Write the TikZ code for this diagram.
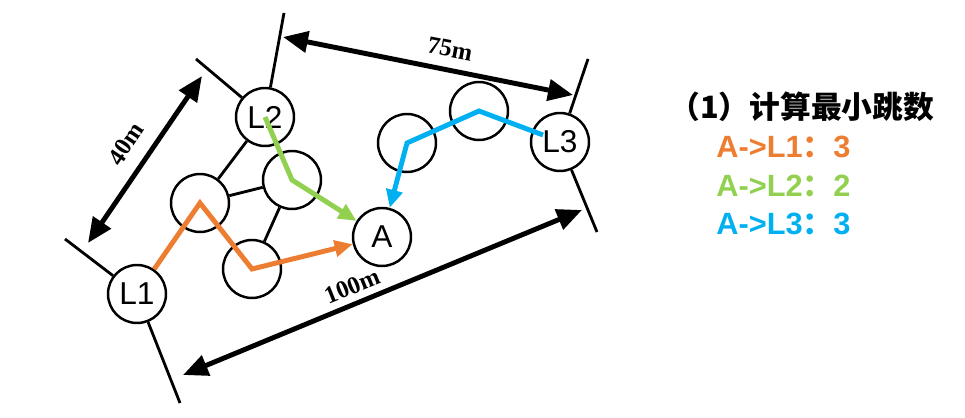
\documentclass[tikz,border=0pt]{standalone}
\usepackage{fontspec}
\setmainfont{Liberation Sans}
\newfontfamily\cjk{Noto Sans CJK SC}
\newfontfamily\dimfont{Liberation Serif}
\usetikzlibrary{arrows.meta}
\definecolor{hoporange}{HTML}{ED7D31}
\definecolor{hopgreen}{HTML}{92D050}
\definecolor{hopblue}{HTML}{00B0F0}

\begin{document}
\begin{tikzpicture}[x=0.02cm, y=-0.02cm, line width=1.6pt,
  site/.style={draw, circle, fill=white, minimum size=1.16cm, inner sep=0pt,
    line width=1.4pt, font=\fontsize{18}{18}\selectfont},
  dimarrow/.style={line width=2.8pt,
    {Triangle[length=0.5cm,width=0.42cm]}-{Triangle[length=0.5cm,width=0.42cm]}},
  dimlabel/.style={font=\dimfont\bfseries\fontsize{14}{14}\selectfont},
  hop/.style={line width=2.8pt, -{Triangle[length=0.36cm,width=0.32cm]}},
  hoplabel/.style={anchor=base west, inner sep=0pt,
    font=\bfseries\fontsize{17.5}{17.5}\selectfont}]
  \useasboundingbox (0,0) rectangle (965,418);

  % sensor nodes
  \node[site] (L1) at (137,294) {L1};
  \node[site] (L2) at (265,117) {L2};
  \node[site] (A)  at (382,237) {A};
  \node[site] (L3) at (560,142) {L3};
  \node[site] (n1) at (200,203) {};
  \node[site] (n2) at (292,180) {};
  \node[site] (n3) at (252,269) {};
  \node[site] (n4) at (407,143) {};
  \node[site] (n5) at (479,111) {};

  % extension lines of the area
  \coordinate (e1) at (65,239);
  \coordinate (e2) at (180,403);
  \coordinate (e3) at (196,59);
  \coordinate (e4) at (284,13);
  \coordinate (e5) at (588,59);
  \coordinate (e6) at (597,232);
  \draw (e1) -- (L1);
  \draw (L1) -- (e2);
  \draw (e3) -- (L2);
  \draw (L2) -- (e4);
  \draw (e5) -- (L3);
  \draw (L3) -- (e6);

  % links
  \draw (L2) -- (n1);
  \draw (n1) -- (n2);
  \draw (n2) -- (n3);

  % dimensions
  \coordinate (d1) at (88,243);
  \coordinate (d2) at (202,76);
  \coordinate (d3) at (283,37);
  \coordinate (d4) at (573,95);
  \coordinate (d5) at (183,375);
  \coordinate (d6) at (582,210);
  \draw[dimarrow] (d1) -- (d2);
  \draw[dimarrow] (d3) -- (d4);
  \draw[dimarrow] (d5) -- (d6);
  \node[dimlabel, rotate=56]  (w40)  at (126,144) {40m};
  \node[dimlabel, rotate=-11] (w75)  at (450,49)  {75m};
  \node[dimlabel, rotate=22]  (w100) at (352,286) {100m};

  % hop paths
  \coordinate (b0) at (543,135);
  \draw[hop, hoporange] (L1) -- (n1.center) -- (n3.center) -- (A);
  \draw[hop, hopgreen] (L2.center) -- (n2.center) -- (A);
  \draw[hop, hopblue] (b0) -- (n5.center) -- (n4.center) -- (A);

  % result
  \node[anchor=base west, inner sep=0pt,
    font=\cjk\bfseries\fontsize{17.5}{17.5}\selectfont] (title) at (668,119) {（1）计算最小跳数};
  \node[hoplabel, text=hoporange] (r1) at (715,158) {A->L1{\cjk：}3};
  \node[hoplabel, text=hopgreen]  (r2) at (715,197) {A->L2{\cjk：}2};
  \node[hoplabel, text=hopblue]   (r3) at (715,235) {A->L3{\cjk：}3};
\end{tikzpicture}
\end{document}
